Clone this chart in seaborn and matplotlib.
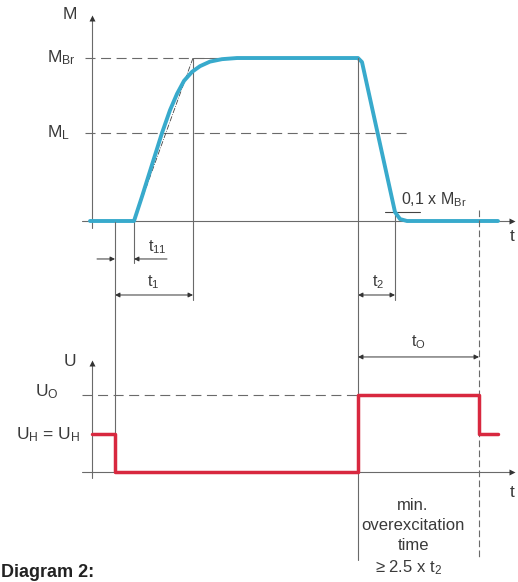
import matplotlib
matplotlib.use("Agg")
import matplotlib.pyplot as plt
import seaborn as sns

# ---------------- data ----------------
torque_time = [-2, 42, 50, 60, 70, 78, 85, 92, 100, 108, 118, 130, 145, 266, 270, 303, 308, 315, 406]
torque_value = [0, 0, 0.15, 0.345, 0.54, 0.68, 0.78, 0.86, 0.915, 0.95, 0.978, 0.993, 1.0, 1.0, 0.975, 0.055, 0.012, 0, 0]
voltage_time = [0, 23, 23, 266, 266, 387, 387, 406]
voltage_value = [0.49, 0.49, 0, 0, 1, 1, 0.49, 0.49]

M_BR, M_L, M_TENTH = 1.0, 0.54, 0.055
U_O, U_H = 1.0, 0.49
T_SWITCH, T_RISE, T_TANGENT = 23, 42, 101
T_OFF, T_FALL, T_OVER = 266, 303, 387

# ---------------- style ----------------
sns.set_theme(style="white")
plt.rcParams["font.family"] = ["Liberation Sans", "DejaVu Sans"]
plt.rcParams["mathtext.fontset"] = "custom"
plt.rcParams["mathtext.rm"] = "Liberation Sans"
plt.rcParams["mathtext.it"] = "Liberation Sans"

GREY = "#6a6a6a"
TXT = "#3a3a3a"
CYAN = "#38aacc"
RED = "#d8283f"
DASH = (0, (9, 5))

fig = plt.figure(figsize=(5.18, 5.82), dpi=100)
ax_m = fig.add_axes([0, 0, 1, 1])
ax_u = fig.add_axes([0, 0, 1, 1])
for ax in (ax_m, ax_u):
    ax.set_xlim(-92, 426)
    ax.set_axis_off()
    ax.patch.set_alpha(0)
ax_m.set_ylim(-2.215, 1.356)
ax_u.set_ylim(-1.4286, 6.13)


def m2u(m):
    px = 221 - 163 * m
    return (472 - px) / 77


def arrow(ax, x0, y0, x1, y1, style="-|>", lw=0.7, color="#333333", ms=7):
    ax.annotate("", xy=(x1, y1), xytext=(x0, y0),
                arrowprops=dict(arrowstyle=style, lw=lw, color=color,
                                mutation_scale=ms, shrinkA=0, shrinkB=0))


def axes_cross(ax, y_top):
    ax.plot([0, 0], [ax_bottom[ax], y_top], color=GREY, lw=0.8)
    ax.plot([0], [y_top], marker="^", ms=5, color="#333333", mec="none")
    ax.plot([-10, 420], [0, 0], color=GREY, lw=0.8)
    ax.plot([420], [0], marker=">", ms=5, color="#333333", mec="none")


# ---------------- top diagram (torque) ----------------
ax_m.plot([-7, T_OFF], [M_BR, M_BR], color=GREY, lw=0.8, ls=DASH)
ax_m.plot([-7, 315], [M_L, M_L], color=GREY, lw=0.8, ls=DASH)
ax_m.plot([T_RISE, T_TANGENT], [0, M_BR], color="#444444", lw=0.6, ls="-.")
ax_m.plot([T_TANGENT, 125], [M_BR, M_BR], color=GREY, lw=0.7)

ax_bottom = {ax_m: -0.04, ax_u: -0.08}
axes_cross(ax_m, 1.245)

# helper verticals
ax_m.plot([T_RISE, T_RISE], [0, -0.258], color=GREY, lw=0.8)
ax_m.plot([T_TANGENT, T_TANGENT], [M_BR, -0.485], color=GREY, lw=0.8)
ax_m.plot([T_FALL, T_FALL], [M_TENTH, -0.485], color=GREY, lw=0.8)
ax_m.plot([293, 328], [M_TENTH, M_TENTH], color="#444444", lw=0.8)

sns.lineplot(x=torque_time, y=torque_value, ax=ax_m, color=CYAN, lw=2.8,
             sort=False, estimator=None, solid_joinstyle="round",
             solid_capstyle="round")

# dimension arrows
arrow(ax_m, 5, -0.233, T_SWITCH, -0.233)
arrow(ax_m, 75, -0.233, T_RISE, -0.233)
arrow(ax_m, T_SWITCH, -0.454, T_TANGENT, -0.454, style="<|-|>")
arrow(ax_m, T_OFF, -0.454, T_FALL, -0.454, style="<|-|>")

fs = 12.5
fs2 = 11.5
ax_m.text(-22, 1.264, "M", fontsize=fs, color=TXT, ha="center", va="center")
ax_m.text(-45, M_BR, r"M$_{\mathrm{Br}}$", fontsize=fs, color=TXT, ha="left", va="center")
ax_m.text(-45, M_L, r"M$_{\mathrm{L}}$", fontsize=fs, color=TXT, ha="left", va="center")
ax_m.text(420, -0.098, "t", fontsize=fs, color=TXT, ha="center", va="center")
ax_m.text(309, 0.13, r"0,1 x M$_{\mathrm{Br}}$", fontsize=fs2, color=TXT, ha="left", va="center")
ax_m.text(65, -0.16, r"t$_{11}$", fontsize=fs2, color=TXT, ha="center", va="center")
ax_m.text(61, -0.374, r"t$_{1}$", fontsize=fs2, color=TXT, ha="center", va="center")
ax_m.text(286, -0.374, r"t$_{2}$", fontsize=fs2, color=TXT, ha="center", va="center")

# ---------------- bottom diagram (voltage) ----------------
ax_u.plot([-10, T_OFF], [U_O, U_O], color=GREY, lw=0.8, ls=DASH)
axes_cross(ax_u, 1.42)

# long verticals spanning both diagrams
ax_u.plot([T_SWITCH, T_SWITCH], [m2u(-0.006), 0], color=GREY, lw=0.8)
ax_u.plot([T_OFF, T_OFF], [m2u(M_BR), -1.143], color=GREY, lw=0.8)
ax_u.plot([T_OVER, T_OVER], [3.40, -1.143], color=GREY, lw=0.8, ls=(0, (6, 3)))

sns.lineplot(x=voltage_time, y=voltage_value, ax=ax_u, color=RED, lw=2.5,
             sort=False, estimator=None)

arrow(ax_u, T_OFF, 1.494, T_OVER, 1.494, style="<|-|>")

ax_u.text(-22, 1.43, "U", fontsize=fs, color=TXT, ha="center", va="center")
ax_u.text(-57, 1.04, r"U$_{\mathrm{O}}$", fontsize=fs, color=TXT, ha="left", va="center")
ax_u.text(-12, U_H, r"U$_{\mathrm{H}}$ = U$_{\mathrm{H}}$", fontsize=fs, color=TXT, ha="right", va="center")
ax_u.text(420, -0.26, "t", fontsize=fs, color=TXT, ha="center", va="center")
ax_u.text(326, 1.68, r"t$_{\mathrm{O}}$", fontsize=fs2, color=TXT, ha="center", va="center")

ax_u.text(321, -0.43, "min.", fontsize=12, color=TXT, ha="center", va="center")
ax_u.text(321, -0.70, "overexcitation", fontsize=12, color=TXT, ha="center", va="center")
ax_u.text(321, -0.955, "time", fontsize=12, color=TXT, ha="center", va="center")
ax_u.text(317, -1.24, r"≥ 2.5 x t$_{2}$", fontsize=12, color=TXT, ha="center", va="center")
ax_u.text(-91, -1.36, "Diagram 2:", fontsize=13, color="#222222",
          fontweight="bold", ha="left", va="baseline")

fig.savefig("out.png", dpi=100)
